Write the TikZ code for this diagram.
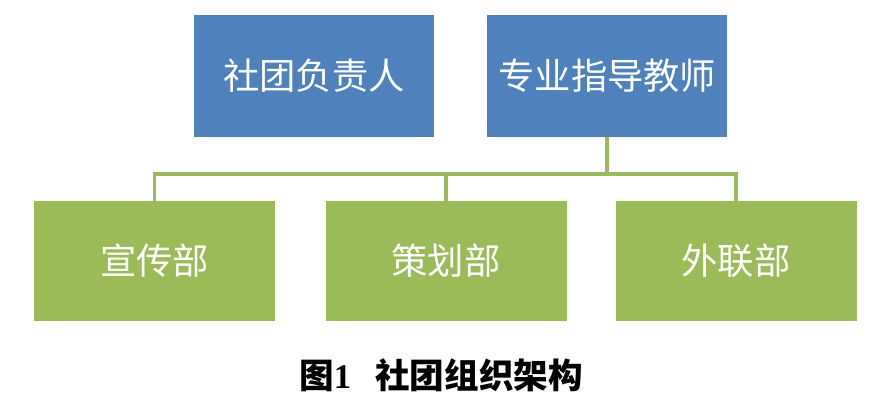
\documentclass[tikz,border=0pt]{standalone}
\usepackage{fontspec}
\newfontfamily\cjk{Noto Sans CJK SC}
\newfontfamily\capnum{Liberation Serif}
\usetikzlibrary{positioning}
\definecolor{leadcolor}{RGB}{79,129,189}
\definecolor{deptcolor}{RGB}{155,187,89}

\begin{document}
\begin{tikzpicture}[
    lead/.style={rectangle, fill=leadcolor, minimum width=7.2cm, minimum height=3.66cm, text=white, font=\cjk\fontsize{31}{36}\selectfont},
    dept/.style={rectangle, fill=deptcolor, minimum width=7.23cm, minimum height=3.6cm, text=white, font=\cjk\fontsize{31}{36}\selectfont},
    link/.style={draw=deptcolor, line width=3.4pt},
]
    \useasboundingbox (0,0) rectangle (26.61,12.12);
    \node[lead] (t1) at (9.42,9.84) {社团负责人};
    \node[lead] (t2) at (18.22,9.84) {专业指导教师};
    \node[dept] (b1) at (4.635,4.29) {宣传部};
    \node[dept] (b2) at (13.38,4.29) {策划部};
    \node[dept] (b3) at (22.08,4.29) {外联部};
    \coordinate (bar) at (0,6.9);
    \draw[link] (t2.south) -- (t2.south |- bar);
    \draw[link] (b1.north) -- (b1.north |- bar) -| (b3.north);
    \draw[link] (b2.north) -- (b2.north |- bar);
    \node[font=\cjk\bfseries\fontsize{29.5}{34}\selectfont] (cap) at (13.23,0.87) {图{\capnum\bfseries 1}\hspace{0.7em}社团组织架构};
\end{tikzpicture}
\end{document}
